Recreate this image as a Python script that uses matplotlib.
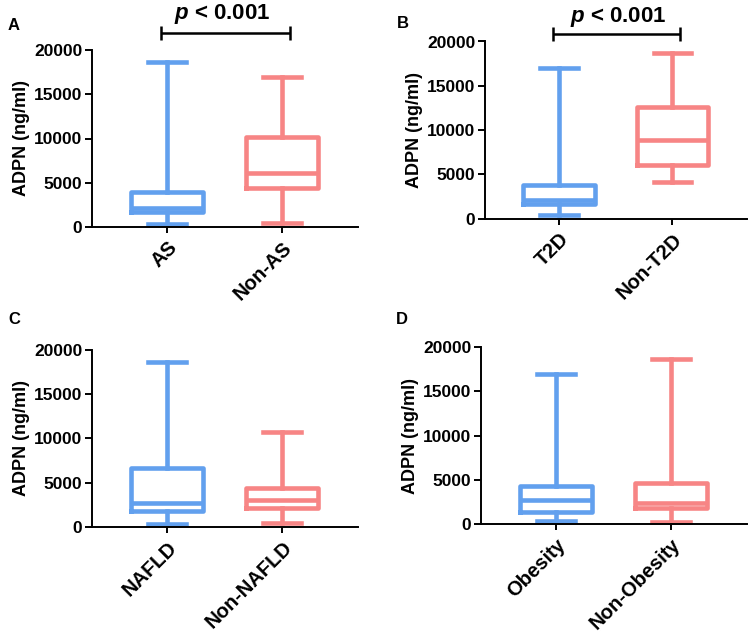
import matplotlib
matplotlib.use("Agg")
import matplotlib.pyplot as plt

plt.rcParams['font.family'] = ['Liberation Sans', 'DejaVu Sans']
plt.rcParams['font.weight'] = 'bold'
plt.rcParams['mathtext.fontset'] = 'custom'
plt.rcParams['mathtext.it'] = 'Liberation Sans:italic:bold'
plt.rcParams['mathtext.rm'] = 'Liberation Sans:bold'

BLUE = "#62A0EE"
PINK = "#F78585"

# ---- data (min, q1, median, q3, max) ----
cats_A = ["AS", "Non-AS"]
min_A = [300, 420]
q1_A = [1750, 4400]
med_A = [2150, 6080]
q3_A = [3900, 10150]
max_A = [18700, 17000]

cats_B = ["T2D", "Non-T2D"]
min_B = [350, 4150]
q1_B = [1600, 6000]
med_B = [2100, 8900]
q3_B = [3800, 12550]
max_B = [17000, 18700]

cats_C = ["NAFLD", "Non-NAFLD"]
min_C = [350, 450]
q1_C = [1800, 2100]
med_C = [2700, 3000]
q3_C = [6650, 4350]
max_C = [18600, 10650]

cats_D = ["Obesity", "Non-Obesity"]
min_D = [340, 260]
q1_D = [1400, 1770]
med_D = [2750, 2350]
q3_D = [4300, 4600]
max_D = [17000, 18600]

yticks = [0, 5000, 10000, 15000, 20000]
ylabel = "ADPN (ng/ml)"
panel_letters = ["A", "B", "C", "D"]
pvals = ["< 0.001", "< 0.001", None, None]

panels = [
    (cats_A, min_A, q1_A, med_A, q3_A, max_A),
    (cats_B, min_B, q1_B, med_B, q3_B, max_B),
    (cats_C, min_C, q1_C, med_C, q3_C, max_C),
    (cats_D, min_D, q1_D, med_D, q3_D, max_D),
]

W, H = 751, 634
fig = plt.figure(figsize=(W / 100, H / 100), dpi=100)

# axes rectangles in pixels: (left, right, bottom(y0 pixel), top(y20000 pixel))
rects_px = [
    (92, 358, 227, 50),
    (485, 747, 218.5, 41.5),
    (92, 358, 527, 349.5),
    (481, 747, 524, 347),
]
letter_pos = [(8, 25), (397, 24), (8, 320), (396, 320)]
ptext_x = [222, 618]

LW = 3.3
for i, (cats, mn, q1, med, q3, mx) in enumerate(panels):
    l, r, b, t = rects_px[i]
    ax = fig.add_axes([l / W, 1 - b / H, (r - l) / W, (b - t) / H])
    colors = [BLUE, PINK]
    for k in range(2):
        col = colors[k]
        st = dict(whislo=mn[k], q1=q1[k], med=med[k], q3=q3[k],
                  whishi=mx[k], label=cats[k], fliers=[])
        ax.bxp([st], positions=[k], widths=0.63, showfliers=False,
               boxprops=dict(color=col, linewidth=LW),
               medianprops=dict(color=col, linewidth=LW, solid_capstyle='butt'),
               whiskerprops=dict(color=col, linewidth=LW),
               capprops=dict(color=col, linewidth=LW),
               capwidths=0.33, manage_ticks=False)
    ax.set_xlim(-0.655, 1.66)
    ax.set_ylim(0, 20000)
    ax.set_xticks([0, 1])
    ax.set_xticklabels(cats, rotation=45, ha='right', va='top',
                       rotation_mode='anchor', fontsize=14.5, fontweight='bold')
    ax.set_yticks(yticks)
    ax.set_yticklabels([str(v) for v in yticks], fontsize=12.5, fontweight='bold')
    ax.spines['top'].set_visible(False)
    ax.spines['right'].set_visible(False)
    ax.spines['left'].set_linewidth(1.4)
    ax.spines['bottom'].set_linewidth(1.4)
    ax.tick_params(axis='y', length=5, width=1.4, pad=2)
    ax.tick_params(axis='x', length=4, width=1.4, pad=4)
    ax.set_ylabel(ylabel, fontsize=13, fontweight='bold', labelpad=3)
    for line in ax.lines:
        line.set_clip_on(False)

    lx, ly = letter_pos[i]
    fig.text(lx / W, 1 - ly / H, panel_letters[i], fontsize=12, fontweight='bold',
             ha='left', va='center')

    if pvals[i] is not None:
        yb = 20000 + (t - (33 if i == 0 else 34)) / (b - t) * 20000
        x0, x1 = -0.055, 1.065
        ax.plot([x0, x1], [yb, yb], color='black', lw=1.8, clip_on=False,
                solid_capstyle='butt')
        dv = 7 / (b - t) * 20000
        for xx in (x0, x1):
            ax.plot([xx, xx], [yb - dv, yb + dv], color='black', lw=1.8,
                    clip_on=False, solid_capstyle='butt')
        ty = 1 - (14 if i == 0 else 17) / H
        fig.text(ptext_x[i] / W, ty, r"$p$ " + pvals[i], fontsize=16,
                 fontweight='bold', ha='center', va='center')

fig.savefig("out.png", dpi=100)
